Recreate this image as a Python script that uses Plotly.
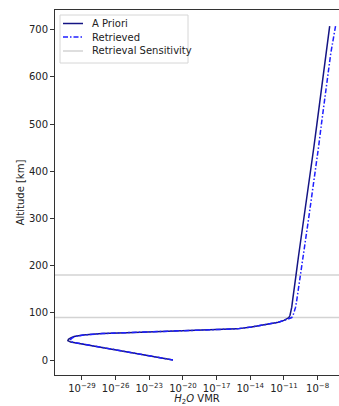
import plotly.graph_objects as go

# Altitude grid [km]
altitude = [0, 5, 10, 15, 20, 25, 30, 35, 38, 41, 44, 47, 50, 53, 56, 58, 60, 62, 64, 66,
            70, 75, 80, 84, 87, 90, 95, 100, 112, 127, 150, 180, 220, 260, 300, 339,
            400, 450, 500, 550, 600, 650, 708]

# A priori H2O VMR
apriori_vmr = [1.3e-21, 8e-23, 5e-24, 3.2e-25, 2.5e-26, 1.6e-27, 8e-29, 4.5e-30, 1e-30, 5.6e-31,
               6.3e-31, 1e-30, 2e-30, 1.3e-29, 6.3e-28, 1e-25, 3.2e-23, 6.3e-21, 1e-17, 6.3e-16,
               1.3e-14, 2.5e-13, 3.2e-12, 1e-11, 1.8e-11, 2.8e-11, 3.5e-11, 4e-11, 5e-11, 6e-11,
               7.6e-11, 1.2e-10, 2e-10, 3.5e-10, 6.3e-10, 1.1e-09,
               2.5e-09, 4.6e-09, 8.7e-09, 1.6e-08, 3.1e-08, 5.8e-08, 1.2e-07]

# Retrieved H2O VMR
retrieved_vmr = [1.3e-21, 8e-23, 5e-24, 3.2e-25, 2.5e-26, 1.6e-27, 8e-29, 5e-30, 1.3e-30, 1e-30,
                 1e-30, 1.4e-30, 2.5e-30, 1.4e-29, 6.3e-28, 1e-25, 3.2e-23, 6.3e-21, 1e-17, 6.3e-16,
                 1.3e-14, 2.5e-13, 3.2e-12, 1.1e-11, 2.3e-11, 5e-11, 6.6e-11, 7.8e-11, 1.1e-10, 1.4e-10,
                 1.9e-10, 2.9e-10, 5e-10, 9e-10, 1.6e-09, 2.7e-09,
                 6.5e-09, 1.2e-08, 2.2e-08, 4.2e-08, 8e-08, 1.5e-07, 4e-07]

# Retrieval sensitivity limits [km]
sensitivity_altitudes = [90, 180]

series_names = ["A Priori", "Retrieved", "Retrieval Sensitivity"]

x_tick_exponents = [-29, -26, -23, -20, -17, -14, -11, -8]
x_tick_vals = [10.0 ** e for e in x_tick_exponents]
x_tick_text = ["10<sup>\u2212%d</sup>" % (-e) for e in x_tick_exponents]
y_tick_vals = [0, 100, 200, 300, 400, 500, 600, 700]

font_family = "DejaVu Sans, Liberation Sans, sans-serif"
apriori_color = "#141484"
retrieved_color = "#1f1fff"
sens_color = "#d3d3d3"
retrieved_dash = "5px,2px,1.5px,2px"

W, H = 339, 406
ML, MR, MT, MB = 55, 0, 10, 31
PW, PH = W - ML - MR, H - MT - MB

fig = go.Figure()
fig.add_trace(go.Scatter(x=apriori_vmr, y=altitude, mode="lines", name=series_names[0],
                         line=dict(color=apriori_color, width=1.5), showlegend=False))
fig.add_trace(go.Scatter(x=retrieved_vmr, y=altitude, mode="lines", name=series_names[1],
                         line=dict(color=retrieved_color, width=1.5, dash=retrieved_dash),
                         showlegend=False))

for alt in sensitivity_altitudes:
    fig.add_shape(type="line", xref="paper", x0=0, x1=1, yref="y", y0=alt, y1=alt,
                  line=dict(color=sens_color, width=1.5), layer="below")

# legend box (paper coords from pixel positions)
def px_x(p):
    return (p - ML) / PW

def px_y(p):
    return 1 - (p - MT) / PH

fig.add_shape(type="rect", xref="paper", yref="paper",
              x0=px_x(60), x1=px_x(188), y0=px_y(63), y1=px_y(15),
              line=dict(color="#d6d6d6", width=1), fillcolor="rgba(255,255,255,0.85)",
              layer="above")
legend_rows = [23.5, 37, 51]
legend_styles = [dict(color=apriori_color, width=1.5),
                 dict(color=retrieved_color, width=1.5, dash=retrieved_dash),
                 dict(color=sens_color, width=1.5)]
for name, ry, st in zip(series_names, legend_rows, legend_styles):
    fig.add_shape(type="line", xref="paper", yref="paper",
                  x0=px_x(63), x1=px_x(83), y0=px_y(ry), y1=px_y(ry), line=st, layer="above")
    fig.add_annotation(x=px_x(90), y=px_y(ry), xref="paper", yref="paper", text=name,
                       showarrow=False, xanchor="left", yanchor="middle",
                       font=dict(size=10, color="#222"))

fig.update_layout(
    width=W, height=H,
    margin=dict(l=ML, r=MR, t=MT, b=MB, autoexpand=False),
    plot_bgcolor="white", paper_bgcolor="white",
    font=dict(family=font_family, size=10, color="#222"),
    showlegend=False,
)

fig.update_xaxes(type="log", range=[-31.40, -6.09], tickvals=x_tick_vals, ticktext=x_tick_text,
                 ticks="outside", ticklen=4, tickwidth=1, tickcolor="#333",
                 showline=True, linecolor="#333", linewidth=1, mirror=True,
                 showgrid=False, zeroline=False, automargin=False,
                 title=dict(text="<i>H</i><sub>2</sub><i>O</i> VMR", standoff=3,
                            font=dict(size=10)),
                 tickfont=dict(size=10))
fig.update_yaxes(range=[-31.8, 742], tickvals=y_tick_vals,
                 ticks="outside", ticklen=4, tickwidth=1, tickcolor="#333",
                 showline=True, linecolor="#333", linewidth=1, mirror=False,
                 showgrid=False, zeroline=False, automargin=False,
                 title=dict(text="Altitude [km]", standoff=2, font=dict(size=10)),
                 tickfont=dict(size=10))

fig.write_html("out.html", config={"displayModeBar": False},
               post_script="document.body.style.margin='0';document.body.style.overflow='hidden';")
